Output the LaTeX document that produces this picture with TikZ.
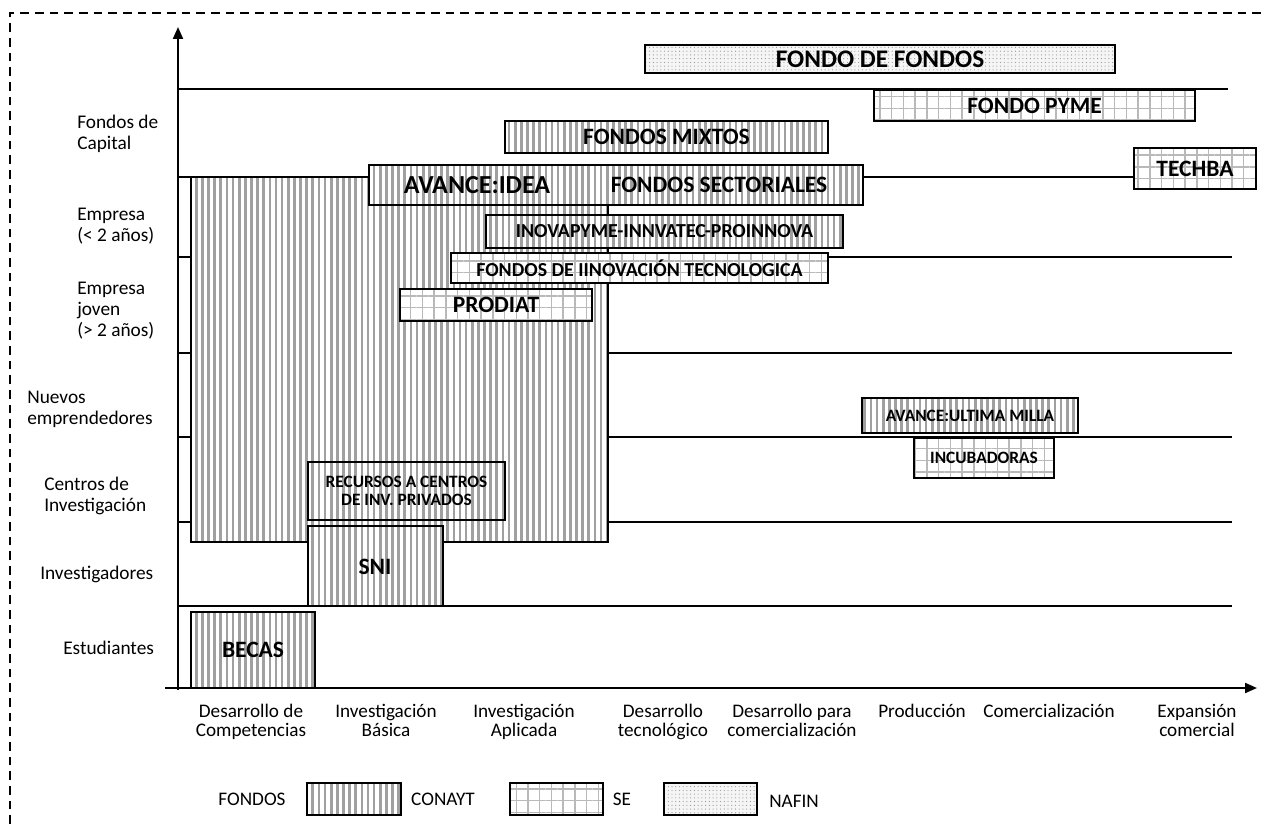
\documentclass[tikz,border=0pt]{standalone}
\usepackage{fontspec}
\setmainfont{Carlito}
\usetikzlibrary{patterns.meta,arrows.meta}
\definecolor{stripe}{RGB}{160,160,160}
\definecolor{gridc}{RGB}{185,185,185}
\definecolor{dotc}{RGB}{150,150,150}
\tikzset{
 conayt/.style={draw, line width=1.5pt, preaction={fill=white}, pattern={Lines[angle=90,distance=4.6pt,line width=2pt]}, pattern color=stripe},
 se/.style={draw, line width=1.5pt, preaction={fill=white}, pattern={Hatch[angle=0,distance=8.8pt,line width=1.1pt]}, pattern color=gridc},
 nafin/.style={draw, line width=1.5pt, preaction={fill=gray!8}, pattern={Dots[radius=0.45pt,distance=2.8pt]}, pattern color=dotc},
 big/.style={font=\fontsize{17.6}{18}\selectfont\bfseries, inner sep=0},
 mid/.style={font=\fontsize{14.9}{15}\selectfont\bfseries, inner sep=0},
 small/.style={font=\fontsize{13}{13.5}\selectfont\bfseries, align=center, inner sep=0},
 lab/.style={font=\fontsize{14.5}{15.7}\selectfont, align=left, anchor=west, inner sep=0},
 axl/.style={font=\fontsize{14.4}{14.3}\selectfont, align=center, inner sep=0, anchor=north},
 leg/.style={font=\fontsize{14.4}{15}\selectfont, inner sep=0},
 gline/.style={line width=0.9pt},
 axis/.style={line width=1.5pt, -{Triangle[length=9pt,width=7.5pt]}},
}
\newcommand\pbox[6]{\node[#2, inner sep=0, outer sep=0, minimum width={(#5-#3)*0.75pt}, minimum height={(#6-#4)*0.75pt}] (#1) at ({(#3+#5)/2},{(#4+#6)/2}) {};}
\begin{document}
\begin{tikzpicture}[x=0.75pt,y=-0.75pt]
\useasboundingbox (0,0) rectangle (1263,824);
% dashed frame
\draw[line width=1.5pt, dash pattern=on 6.5pt off 4.5pt] (10,824) -- (10,13) -- (1263,13);
% grid lines
\draw[gline] (178,89) -- (1228,89);
\draw[gline] (178,177) -- (1134,177);
\draw[gline] (178,257) -- (1232,257);
\draw[gline] (178,353) -- (1232,353);
\draw[gline] (178,437) -- (1232,437);
\draw[gline] (178,522) -- (1232,522);
\draw[gline] (178,606) -- (1232,606);
% axes
\draw[axis] (178,690) -- (178,27);
\draw[axis] (165,688) -- (1257,688);
% boxes
\pbox{bigc}{conayt}{191}{177}{608}{542}
\pbox{recursos}{conayt}{308}{462}{505}{520}
\pbox{sni}{conayt}{308}{526}{443}{606}
\pbox{becas}{conayt}{191}{612}{315}{688}
\pbox{fit}{se}{451}{253}{828}{283}
\pbox{inova}{conayt}{486}{215}{843}{248}
\pbox{prodiat}{se}{400}{289}{592}{321}
\pbox{avance}{conayt}{369}{165}{863}{205}
\pbox{mixtos}{conayt}{505}{121}{828}{153}
\pbox{fdf}{nafin}{645}{45}{1115}{73}
\pbox{pyme}{se}{874}{90}{1195}{121}
\pbox{techba}{se}{1134}{148}{1256}{189}
\pbox{ultima}{conayt}{862}{398}{1078}{433}
\pbox{incub}{se}{914}{438}{1054}{478}
% box texts
\node[small] (trec) at (recursos.center) {RECURSOS A CENTROS\\DE INV. PRIVADOS};
\node[big] (tsni) at (375,567) {SNI};
\node[big] (tbecas) at (becas.center) {BECAS};
\node[mid] (tfit) at (fit.center) {FONDOS DE IINOVACIÓN TECNOLOGICA};
\node[mid] (tinova) at (inova.center) {INOVAPYME-INNVATEC-PROINNOVA};
\node[big] (tprodiat) at (prodiat.center) {PRODIAT};
\node[big, font=\fontsize{19.5}{20}\selectfont\bfseries] (tidea) at (477,185) {AVANCE:IDEA};
\node[big] (tsect) at (719,185) {FONDOS SECTORIALES};
\node[big] (tmixtos) at (mixtos.center) {FONDOS MIXTOS};
\node[big, font=\fontsize{19}{20}\selectfont\bfseries] (tfdf) at (fdf.center) {FONDO DE FONDOS};
\node[big] (tpyme) at (pyme.center) {FONDO PYME};
\node[big] (ttechba) at (techba.center) {TECHBA};
\node[small] (tultima) at (ultima.center) {AVANCE:ULTIMA MILLA};
\node[small] (tincub) at (incub.center) {INCUBADORAS};
% left labels
\node[lab] (l1) at (77,134) {Fondos de\\Capital};
\node[lab] (l2) at (77,226) {Empresa\\(< 2 años)};
\node[lab] (l3) at (77,311) {Empresa\\joven\\(> 2 años)};
\node[lab] (l4) at (27,409) {Nuevos\\emprendedores};
\node[lab] (l5) at (44,496) {Centros de\\Investigación};
\node[lab] (l6) at (40,574) {Investigadores};
\node[lab] (l7) at (63,648) {Estudiantes};
% axis labels
\node[axl] (a1) at (251,704) {\strut Desarrollo de\\\strut Competencias};
\node[axl] (a2) at (386,704) {\strut Investigación\\\strut Básica};
\node[axl] (a3) at (524,704) {\strut Investigación\\\strut Aplicada};
\node[axl] (a4) at (663,704) {\strut Desarrollo\\\strut tecnológico};
\node[axl] (a5) at (792,704) {\strut Desarrollo para\\\strut comercialización};
\node[axl] (a6) at (922,704) {\strut Producción};
\node[axl] (a7) at (1049,704) {\strut Comercialización};
\node[axl] (a8) at (1197,704) {\strut Expansión\\\strut comercial};
% legend
\node[leg] (gf) at (252,799) {FONDOS};
\pbox{lg1}{conayt}{307}{783}{401}{815}
\node[leg] (gc) at (443,799) {CONAYT};
\pbox{lg2}{se}{510}{783}{603}{815}
\node[leg] (gs) at (622,799) {SE};
\pbox{lg3}{nafin}{664}{783}{757}{815}
\node[leg, anchor=west] (gn) at (769,801) {NAFIN};
\end{tikzpicture}
\end{document}
